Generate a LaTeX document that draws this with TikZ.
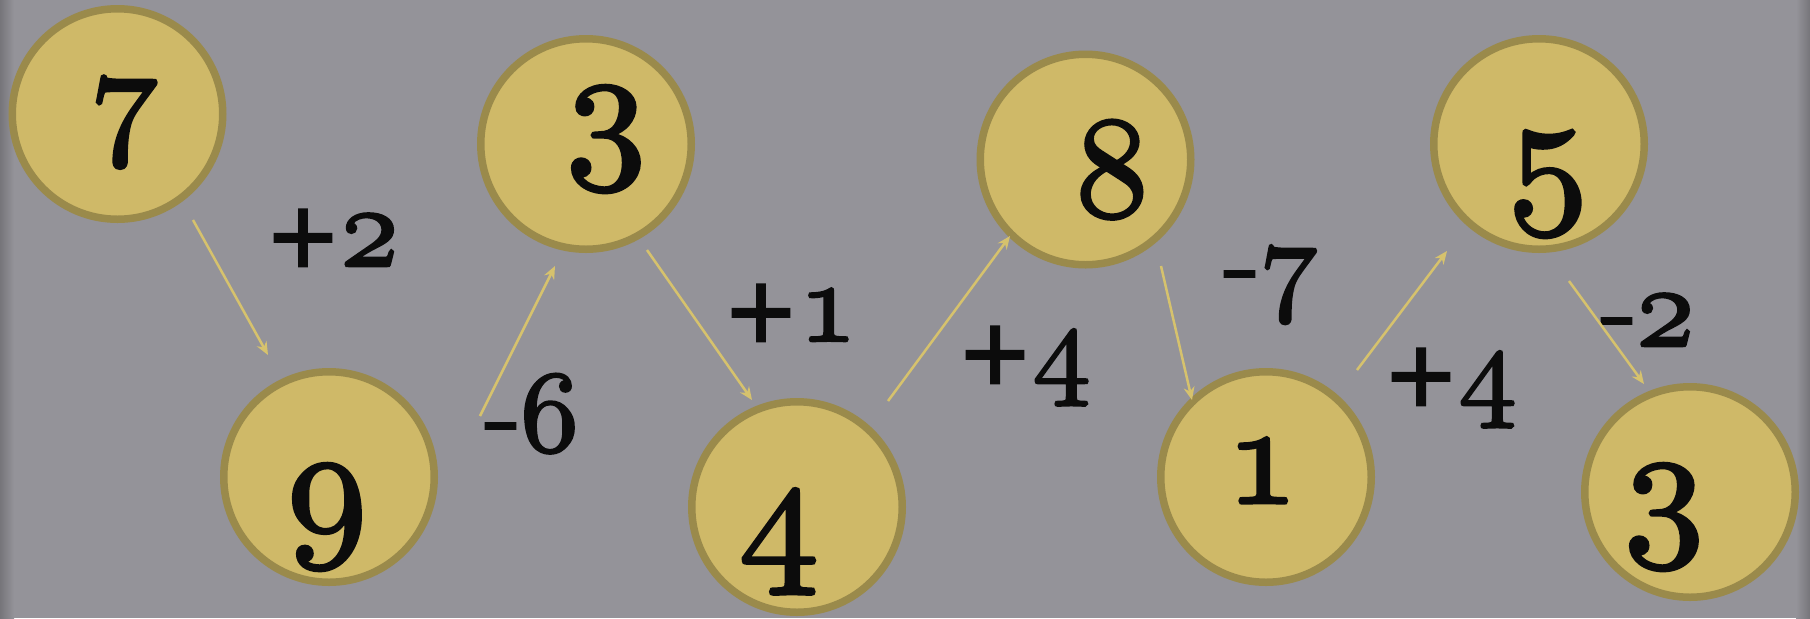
\documentclass[tikz,border=0pt]{standalone}
\usepackage{fontspec}
\usetikzlibrary{arrows.meta}
\definecolor{bgc}{RGB}{148,147,153}
\definecolor{bgdark}{RGB}{118,117,122}
\definecolor{coinfill}{RGB}{207,185,104}
\definecolor{coinedge}{RGB}{154,138,75}
\definecolor{arrowc}{RGB}{214,194,109}
\definecolor{inkc}{RGB}{12,12,12}
\newfontfamily\signfont{DejaVu Sans}
\font\osfbig=cmmi10 at 80pt
\font\osfmid=cmmi10 at 72pt
\font\osfsml=cmmi10 at 68pt
\font\osflab=cmmi10 at 58pt
% stroke the glyph outlines to thicken them
\newcommand\heavy[2]{\special{pdf:literal 2 Tr #1 w}#2\special{pdf:literal 0 Tr}}
\newcommand\plusmark{{\fontsize{45}{45}\signfont +}}
\newcommand\minusmark{{\fontsize{58}{58}\selectfont\rmfamily -}}
\tikzset{
  coin/.style={circle, draw=coinedge, fill=coinfill, line width=3.75pt, minimum size=105.25pt, inner sep=0pt},
  digit/.style={anchor=base, inner sep=0pt, text=inkc, font=\osfbig},
  lab/.style={anchor=base, inner sep=0pt, text=inkc, font=\osflab},
  link/.style={draw=arrowc, line width=1.25pt, -{Stealth[length=6.5pt,width=5.5pt]}}
}
\begin{document}
\begin{tikzpicture}[x=0.5pt,y=-0.5pt]
\useasboundingbox (0,0) rectangle (1810,618);
\fill[bgc] (0,0) rectangle (1810,618);
\shade[left color=bgdark, right color=bgc] (0,0) rectangle (14,618);
\shade[left color=bgc, right color=bgdark] (1796,0) rectangle (1810,618);
% coins
\node[coin] (c1) at (117.5,114) {};
\node[coin] (c2) at (329,477) {};
\node[coin] (c3) at (586,144) {};
\node[coin] (c4) at (797,507) {};
\node[coin] (c5) at (1085.5,159.5) {};
\node[coin] (c6) at (1266,477) {};
\node[coin] (c7) at (1539,144) {};
\node[coin] (c8) at (1690,492) {};
% digits
\node[digit, font=\osfsml] (d1) at (124,139) {\heavy{1.7}{7}};
\node[digit] (d2) at (327,536) {\heavy{1.8}{9}};
\node[digit] (d3) at (606,158) {\heavy{1.8}{3}};
\node[digit] (d4) at (779,563) {\heavy{1.8}{4}};
\node[digit, font=\osfmid] (d5) at (1112,216) {\heavy{1.7}{8}};
\node[digit, font=\osfmid] (d6) at (1262,503) {\heavy{1.7}{1}};
\node[digit] (d7) at (1548,203) {\heavy{1.8}{5}};
\node[digit] (d8) at (1664,536) {\heavy{1.8}{3}};
% labels
\node[lab] (l1) at (332,266) {\heavy{1.3}{\plusmark 2}};
\node[lab] (l2) at (532,451) {\heavy{1.3}{\minusmark 6}};
\node[lab] (l3) at (790,341) {\heavy{1.3}{\plusmark 1}};
\node[lab] (l4) at (1024,383) {\heavy{1.3}{\plusmark 4}};
\node[lab] (l5) at (1271,299) {\heavy{1.3}{\minusmark 7}};
\node[lab] (l6) at (1450,405) {\heavy{1.3}{\plusmark 4}};
\node[lab] (l7) at (1648,346) {\heavy{1.3}{\minusmark 2}};
% arrow ends
\coordinate (a1s) at (193,220);  \coordinate (a1e) at (268,355);
\coordinate (a2s) at (480,416);  \coordinate (a2e) at (555,266);
\coordinate (a3s) at (647,250);  \coordinate (a3e) at (752,400);
\coordinate (a4s) at (888,401);  \coordinate (a4e) at (1010,236);
\coordinate (a5s) at (1161,266); \coordinate (a5e) at (1192,400);
\coordinate (a6s) at (1357,370); \coordinate (a6e) at (1447,251);
\coordinate (a7s) at (1569,281); \coordinate (a7e) at (1644,384);
\draw[link] (a1s) -- (a1e);
\draw[link] (a2s) -- (a2e);
\draw[link] (a3s) -- (a3e);
\draw[link] (a4s) -- (a4e);
\draw[link] (a5s) -- (a5e);
\draw[link] (a6s) -- (a6e);
\draw[link] (a7s) -- (a7e);
\end{tikzpicture}
\end{document}
